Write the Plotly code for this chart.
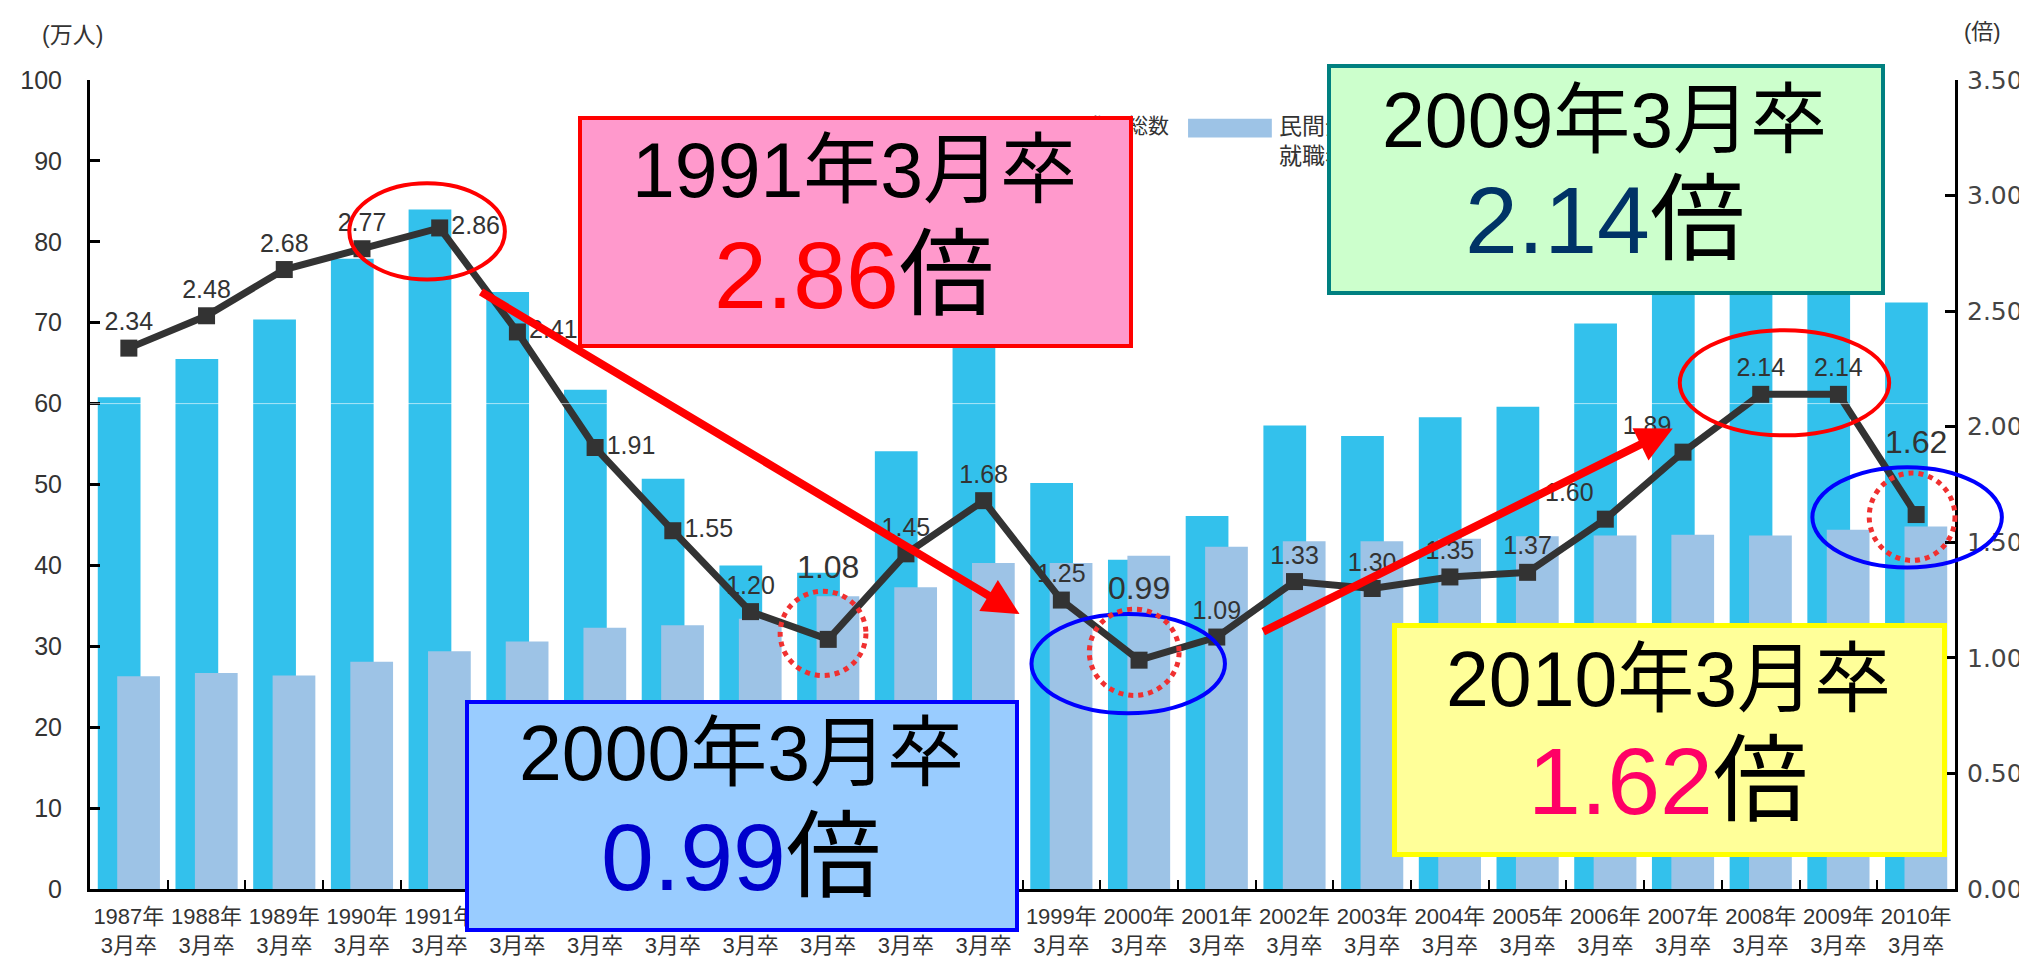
import plotly.graph_objects as go

# ---- data (万人 / 倍) -------------------------------------------------------
years = list(range(1987, 2011))
categories = [f"{y}年<br>3月卒" for y in years]

job_openings = [60.8, 65.5, 70.4, 77.9, 84.0, 73.8, 61.7, 50.7, 40.0, 39.1, 54.1, 67.5,
                50.2, 40.7, 46.1, 57.3, 56.0, 58.3, 59.6, 69.9, 82.5, 93.3, 94.8, 72.5]
job_seekers = [26.3, 26.7, 26.4, 28.1, 29.4, 30.6, 32.3, 32.6, 33.4, 36.2, 37.3, 40.3,
               40.3, 41.2, 42.3, 43.0, 43.0, 43.3, 43.6, 43.7, 43.8, 43.7, 44.4, 44.8]
ratio = [2.34, 2.48, 2.68, 2.77, 2.86, 2.41, 1.91, 1.55, 1.20, 1.08, 1.45, 1.68,
         1.25, 0.99, 1.09, 1.33, 1.30, 1.35, 1.37, 1.60, 1.89, 2.14, 2.14, 1.62]

highlight_years = [1996, 2000, 2010]

callouts = [
    ("1991年3月卒", "2.86"),
    ("2000年3月卒", "0.99"),
    ("2009年3月卒", "2.14"),
    ("2010年3月卒", "1.62"),
]

# ---- page geometry ----------------------------------------------------------
W, H = 2027, 962
L, R, T, B = 78, 79, 72, 75
PW, PH = W - L - R, H - T - B
FONT = "Liberation Sans, Arial, Noto Sans CJK JP, sans-serif"
CYAN = "#33C1EC"
LIGHT = "#9DC3E6"


def paper(x, y):
    """pixel position on the page -> paper coordinates"""
    return (x - L) / PW, (H - B - y) / PH


def text_note(x, y, text, size, color="#333", xanchor="center", yanchor="middle", **kw):
    px_, py_ = paper(x, y)
    return dict(xref="paper", yref="paper", x=px_, y=py_, text=text, showarrow=False,
                xanchor=xanchor, yanchor=yanchor,
                font=dict(size=size, color=color, family=FONT), **kw)


label_pos = []
for i, y in enumerate(years):
    if 1991 <= y <= 1994:
        label_pos.append("middle right")
    elif y in (2006, 2007):
        label_pos.append("top left")
    else:
        label_pos.append("top center")
# highlighted values sit higher, above the dotted circles
label_text = [f"{r:.2f}<br>\u00a0" if y in highlight_years else f"{r:.2f}"
              for y, r in zip(years, ratio)]
label_size = [32 if y in highlight_years else 25 for y in years]

fig = go.Figure()
fig.add_trace(go.Bar(x=categories, y=job_openings, name="求人総数",
                     marker=dict(color=CYAN, line=dict(width=0)),
                     offset=-0.40, width=0.55))
fig.add_trace(go.Bar(x=categories, y=job_seekers, name="民間企業就職希望者数",
                     marker=dict(color=LIGHT, line=dict(width=0)),
                     offset=-0.15, width=0.55))
fig.add_trace(go.Scatter(x=categories, y=ratio, yaxis="y2", name="求人倍率",
                         mode="lines+markers+text",
                         line=dict(color="#333333", width=7),
                         marker=dict(symbol="square", size=17, color="#333333"),
                         text=label_text, textposition=label_pos,
                         textfont=dict(size=label_size, color="#333333", family=FONT),
                         cliponaxis=False))

shapes = []
annotations = []

# faint white line across the bars
shapes.append(dict(type="line", xref="paper", yref="y", x0=0, x1=1, y0=60, y1=60,
                   line=dict(color="rgba(255,255,255,0.6)", width=1), layer="above"))

# legend (partly hidden behind the callout boxes)
sx0, sy0 = paper(1179, 111)
sx1, sy1 = paper(1263, 130)
shapes.append(dict(type="rect", xref="paper", yref="paper", x0=sx0, x1=sx1, y0=sy0, y1=sy1,
                   fillcolor=LIGHT, line=dict(width=0), layer="above"))
annotations.append(text_note(1118, 118, "求人総数", 21))
annotations.append(text_note(1268, 103, "民間企業<br>就職希望者数", 23,
                             xanchor="left", yanchor="top", align="left"))

# axis unit labels
annotations.append(text_note(60, 27, "(万人)", 23))
annotations.append(text_note(1976, 23, "(倍)", 22))

# ellipses
ellipses = [
    ((338, 176, 494, 273), "#FF0000", 4, "solid"),
    ((1672, 324, 1882, 430), "#FF0000", 4, "solid"),
    ((1022, 610, 1216, 710), "#0000FF", 4, "solid"),
    ((1805, 462, 1995, 563), "#0000FF", 4, "solid"),
    ((770, 587, 856, 672), "#F03030", 5, "dot"),
    ((1080, 605, 1170, 692), "#F03030", 5, "dot"),
    ((1862, 468, 1948, 556), "#F03030", 5, "dot"),
]
for (x0, y0, x1, y1), col, lw, dash in ellipses:
    px0, py0 = paper(x0, y0)
    px1, py1 = paper(x1, y1)
    shapes.append(dict(type="circle", xref="paper", yref="paper", x0=px0, x1=px1, y0=py1, y1=py0,
                       line=dict(color=col, width=lw, dash=dash), layer="above"))

# arrows (tip, tail)
for (tx, ty), (bx, by) in [((1010, 610), (470, 287)), ((1665, 423), (1254, 627))]:
    px_, py_ = paper(tx, ty)
    annotations.append(dict(xref="paper", yref="paper", x=px_, y=py_, ax=bx - tx, ay=by - ty,
                            text="", showarrow=True, arrowhead=2, arrowsize=0.9,
                            arrowwidth=8, arrowcolor="#FF0000", standoff=0, startstandoff=0))

# callout boxes
boxes = [
    ((567, 108, 1122, 340), "#FF99CC", "#FF0000", 4, "#FF0000", 163, 268),
    ((454, 697, 1008, 929), "#99CCFF", "#0000FF", 4, "#0000CC", 750, 855),
    ((1318, 56, 1876, 287), "#CCFFCC", "#008080", 4, "#003366", 112, 213),
    ((1383, 619, 1938, 853), "#FFFF99", "#FFFF00", 5, "#FF0066", 675, 778),
]
for (title, num), ((x0, y0, x1, y1), fill, border, bw, numcol, yl1, yl2) in zip(callouts, boxes):
    px0, py0 = paper(x0, y0)
    annotations.append(dict(xref="paper", yref="paper", x=px0, y=py0, xanchor="left", yanchor="top",
                            text=" ", showarrow=False, width=x1 - x0 - 2 * bw,
                            height=y1 - y0 - 2 * bw, bgcolor=fill, bordercolor=border,
                            borderwidth=bw, borderpad=0, font=dict(size=10)))
    cx = (x0 + x1) / 2
    annotations.append(text_note(cx, yl1, title, 77, color="black"))
    annotations.append(text_note(cx, yl2, f"<span style='color:{numcol}'>{num}</span>倍",
                                 95, color="black"))

fig.update_layout(
    width=W, height=H,
    margin=dict(l=L, r=R, t=T, b=B, pad=0),
    paper_bgcolor="white", plot_bgcolor="white",
    barmode="overlay", showlegend=False,
    font=dict(family=FONT, color="#333333"),
    shapes=shapes, annotations=annotations,
    xaxis=dict(type="category", range=[-0.5, len(years) - 0.5], showline=True,
               linecolor="black", linewidth=3, tickangle=0,
               ticks="inside", tickson="boundaries", ticklen=9, tickwidth=2, tickcolor="black",
               tickfont=dict(size=22, color="#333", family=FONT), ticklabelstandoff=6,
               showgrid=False, zeroline=False),
    yaxis=dict(range=[0, 100], dtick=10, showline=True, linecolor="black", linewidth=3,
               ticks="inside", ticklen=10, tickwidth=3, tickcolor="black",
               tickfont=dict(size=25, color="#333", family=FONT), ticklabelstandoff=20,
               showgrid=False, zeroline=False),
    yaxis2=dict(range=[0, 3.5], dtick=0.5, tickformat=".2f", overlaying="y", side="right",
                showline=True, linecolor="black", linewidth=3,
                ticks="inside", ticklen=10, tickwidth=3, tickcolor="black",
                tickfont=dict(size=25, color="#444", family="DejaVu Sans, sans-serif"),
                ticklabelstandoff=4, showgrid=False, zeroline=False),
)

fig.write_html("out.html")
